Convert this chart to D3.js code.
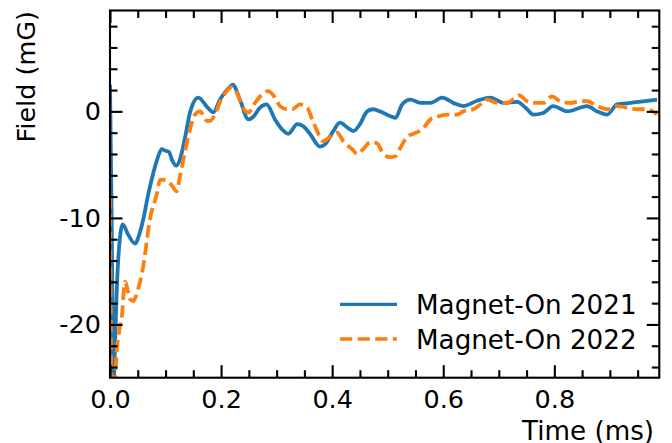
<!DOCTYPE html>
<html>
<head>
<meta charset="utf-8">
<script src="https://cdn.jsdelivr.net/npm/d3@7"></script>
<style>
  html, body { margin: 0; padding: 0; background: #fff; }
  svg { display: block; font-family: "DejaVu Sans", sans-serif; }
</style>
</head>
<body>
<svg id="chart" width="672" height="443"></svg>
<script>
// ---- data ----
const seriesNames = ["Magnet-On 2021", "Magnet-On 2022"];

const time2021 = [0.000,0.003,0.006,0.009,0.012,0.016,0.023,0.032,0.045,0.053,0.060,0.068,0.075,0.085,0.093,0.100,0.106,0.112,0.119,0.126,0.135,0.144,0.159,0.175,0.186,0.198,0.216,0.221,0.234,0.249,0.258,0.270,0.282,0.297,0.310,0.321,0.337,0.348,0.360,0.378,0.387,0.402,0.414,0.427,0.438,0.450,0.463,0.474,0.486,0.505,0.514,0.526,0.541,0.559,0.577,0.598,0.618,0.636,0.661,0.685,0.708,0.733,0.751,0.762,0.780,0.798,0.823,0.847,0.859,0.877,0.895,0.913,0.937,0.960,0.985];
const field2021 = [2.5,-10,-26,-22,-17,-13,-10.6,-11.5,-12.4,-11.5,-10.1,-8,-6.4,-4.5,-3.55,-3.7,-3.8,-4.6,-5.1,-4.5,-2.5,-0.1,1.3,0.4,-0.1,1.1,2.3,2.5,1.1,-0.75,-0.5,0.35,0.65,-0.75,-1.7,-2.1,-1.2,-1.4,-2.1,-3.3,-3.1,-1.85,-1.05,-1.5,-1.85,-1.2,0,0.2,0,-0.45,-0.6,0.65,1.1,0.8,0.8,1.3,0.8,0.5,1.0,1.3,0.8,0.9,0.2,-0.3,-0.15,0.5,0,0.35,0.5,0,-0.3,0.65,0.8,0.95,1.1];

const time2022 = [0.000,0.003,0.008,0.013,0.017,0.021,0.027,0.036,0.042,0.050,0.060,0.072,0.085,0.090,0.103,0.112,0.120,0.126,0.135,0.144,0.153,0.162,0.175,0.180,0.189,0.200,0.207,0.220,0.229,0.238,0.249,0.261,0.274,0.285,0.297,0.306,0.319,0.328,0.342,0.355,0.364,0.373,0.384,0.396,0.409,0.420,0.436,0.445,0.456,0.468,0.481,0.492,0.505,0.514,0.523,0.535,0.546,0.562,0.577,0.589,0.607,0.625,0.636,0.654,0.667,0.679,0.697,0.715,0.737,0.751,0.762,0.780,0.796,0.811,0.829,0.847,0.859,0.877,0.895,0.913,0.931,0.949,0.967,0.985];
const field2022 = [-8,-26,-25.5,-22,-20.5,-19.4,-16,-17.6,-17.8,-16.8,-14.5,-10.1,-7.6,-6.4,-6.5,-7.0,-7.5,-6.1,-3.8,-1.7,-0.3,0,-0.9,-0.9,-0.3,1.1,1.7,2.3,1.7,0.5,-0.1,0.8,1.6,1.9,1.3,0.5,0.2,0.2,0.65,0.35,-0.75,-1.85,-2.8,-2.4,-2.0,-2.8,-3.55,-4.0,-3.55,-2.9,-3.0,-4.0,-4.3,-4.2,-3.4,-2.4,-2.1,-1.7,-0.75,-0.5,-0.3,-0.3,0,0.2,0.65,1.1,0.8,0.8,1.5,0.95,0.8,0.8,1.4,0.95,0.8,0.95,0.95,0.5,0.2,0.5,0.35,0.2,0.2,-0.3];

const xMajorTicks = [0.0, 0.2, 0.4, 0.6, 0.8];
const xMinorTicks = [0.05,0.1,0.15,0.25,0.3,0.35,0.45,0.5,0.55,0.65,0.7,0.75,0.85,0.9,0.95];
const yMajorTicks = [-20, -10, 0];
const yMinorTicks = [-24,-22,-18,-16,-14,-12,-8,-6,-4,-2,2,4,6,8];
const xLabel = "Time (ms)";
const yLabel = "Field (mG)";

// ---- layout ----
const L = 110, R = 659.3, T = 10.5, B = 377.7;
const svg = d3.select("#chart");
const x = d3.scaleLinear().domain([0, 0.989]).range([L, R]);
const y = d3.scaleLinear().domain([-25, 9.47]).range([B, T]);

const FS = 25.5, FSL = 26.2, MAJ = 12.5, MIN = 7.5, TW = 2.1;

svg.append("defs").append("clipPath").attr("id", "clip")
  .append("rect").attr("x", L).attr("y", T).attr("width", R - L).attr("height", B - T);

const line = d3.line().x(d => x(d[0])).y(d => y(d[1])).curve(d3.curveMonotoneX);
const d2021 = time2021.map((t, i) => [t, field2021[i]]);
const d2022 = time2022.map((t, i) => [t, field2022[i]]);

const plot = svg.append("g").attr("clip-path", "url(#clip)");
plot.append("path").datum(d2021).attr("d", line)
  .attr("fill", "none").attr("stroke", "#1f77b4").attr("stroke-width", 3.8)
  .attr("stroke-linejoin", "round");
plot.append("path").datum(d2022).attr("d", line)
  .attr("fill", "none").attr("stroke", "#ff7f0e").attr("stroke-width", 3.8)
  .attr("stroke-dasharray", "12.3,5.3");

// ---- axes ----
function styleAxis(g) {
  g.select(".domain").remove();
  g.selectAll(".tick line").attr("stroke", "#000").attr("stroke-width", TW);
  g.selectAll(".tick text").attr("fill", "#000").attr("font-size", FS)
    .attr("font-family", "DejaVu Sans, sans-serif");
}

// bottom
svg.append("g").attr("transform", `translate(0,${B})`)
  .call(d3.axisBottom(x).tickValues(xMajorTicks).tickFormat(d3.format(".1f"))
    .tickSizeInner(-MAJ).tickSizeOuter(0).tickPadding(12)).call(styleAxis);
svg.append("g").attr("transform", `translate(0,${B})`)
  .call(d3.axisBottom(x).tickValues(xMinorTicks).tickFormat("")
    .tickSizeInner(-MIN).tickSizeOuter(0)).call(styleAxis);
// top
svg.append("g").attr("transform", `translate(0,${T})`)
  .call(d3.axisTop(x).tickValues(xMajorTicks).tickFormat("")
    .tickSizeInner(-MAJ).tickSizeOuter(0)).call(styleAxis);
svg.append("g").attr("transform", `translate(0,${T})`)
  .call(d3.axisTop(x).tickValues(xMinorTicks).tickFormat("")
    .tickSizeInner(-MIN).tickSizeOuter(0)).call(styleAxis);
// left
svg.append("g").attr("transform", `translate(${L},0)`)
  .call(d3.axisLeft(y).tickValues(yMajorTicks).tickFormat(d => String(d))
    .tickSizeInner(-MAJ).tickSizeOuter(0).tickPadding(9)).call(styleAxis);
svg.append("g").attr("transform", `translate(${L},0)`)
  .call(d3.axisLeft(y).tickValues(yMinorTicks).tickFormat("")
    .tickSizeInner(-MIN).tickSizeOuter(0)).call(styleAxis);
// right
svg.append("g").attr("transform", `translate(${R},0)`)
  .call(d3.axisRight(y).tickValues(yMajorTicks).tickFormat("")
    .tickSizeInner(-MAJ).tickSizeOuter(0)).call(styleAxis);
svg.append("g").attr("transform", `translate(${R},0)`)
  .call(d3.axisRight(y).tickValues(yMinorTicks).tickFormat("")
    .tickSizeInner(-MIN).tickSizeOuter(0)).call(styleAxis);

// frame
svg.append("rect").attr("x", L).attr("y", T).attr("width", R - L).attr("height", B - T)
  .attr("fill", "none").attr("stroke", "#000").attr("stroke-width", TW);

// axis labels
svg.append("text").attr("x", 654).attr("y", 440).attr("text-anchor", "end")
  .attr("font-size", FSL).attr("fill", "#000").text(xLabel);
svg.append("text").attr("transform", "translate(35,11) rotate(-90)")
  .attr("text-anchor", "end").attr("font-size", FS).attr("fill", "#000").text(yLabel);

// legend
const legendRows = [
  { name: seriesNames[0], color: "#1f77b4", dash: null, yy: 304.3 },
  { name: seriesNames[1], color: "#ff7f0e", dash: "12.3,5.3", yy: 339 }
];
const lg = svg.append("g");
legendRows.forEach(r => {
  const ln = lg.append("line").attr("x1", 340).attr("x2", 397).attr("y1", r.yy).attr("y2", r.yy)
    .attr("stroke", r.color).attr("stroke-width", 3.3);
  if (r.dash) ln.attr("stroke-dasharray", r.dash);
  lg.append("text").attr("x", 416).attr("y", r.yy + 9.8).attr("font-size", FSL)
    .attr("fill", "#000").text(r.name);
});
</script>
</body>
</html>
